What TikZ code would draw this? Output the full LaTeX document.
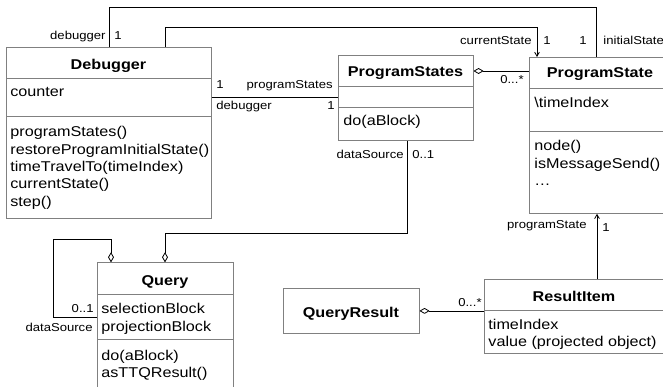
\documentclass[tikz,border=0pt]{standalone}
\usepackage{fontspec}
\setmainfont{Liberation Sans}[FakeStretch=1.14]
\usepackage{tikz}
\usetikzlibrary{arrows}

\newcommand{\bodyfont}{\fontsize{14.2}{17.5}\selectfont}
\newcommand{\labelfont}{\fontsize{11.5}{13}\selectfont}

\begin{document}
\begin{tikzpicture}[x=1pt,y=-1pt,>=angle 60,line width=0.8pt]
  \tikzstyle{cls}=[draw=black!50,anchor=north west,inner sep=0pt]
  \tikzstyle{div}=[draw=black!50]
  \tikzstyle{cname}=[anchor=base,inner sep=0pt,font=\bodyfont\bfseries]
  \tikzstyle{txt}=[anchor=base west,align=left,inner sep=0pt,font=\bodyfont]
  \tikzstyle{lab}=[inner sep=0pt,font=\labelfont]
  \tikzstyle{assoc}=[draw=black]
  \tikzstyle{agg}=[draw=black,open diamond-]
  \tikzstyle{nav}=[draw=black,->]

  \useasboundingbox (0,0) rectangle (663,387);
  \clip (0,0) rectangle (663,387);

  % classes
  \node[cls,minimum width=205pt,minimum height=171pt] (debugger) at (6,47) {};
  \node[cls,minimum width=135pt,minimum height=85pt]  (states)   at (338,55) {};
  \node[cls,minimum width=142pt,minimum height=156pt] (state)    at (529,57) {};
  \node[cls,minimum width=136pt,minimum height=130pt] (query)    at (97,262) {};
  \node[cls,minimum width=136pt,minimum height=45pt]  (result)   at (283,288) {};
  \node[cls,minimum width=180pt,minimum height=74pt]  (item)     at (484,279) {};

  \draw[div] (debugger.west |- 0,78) -- (debugger.east |- 0,78);
  \draw[div] (debugger.west |- 0,116) -- (debugger.east |- 0,116);
  \draw[div] (states.west |- 0,86) -- (states.east |- 0,86);
  \draw[div] (states.west |- 0,107) -- (states.east |- 0,107);
  \draw[div] (state.west |- 0,88) -- (state.east |- 0,88);
  \draw[div] (state.west |- 0,131) -- (state.east |- 0,131);
  \draw[div] (query.west |- 0,294) -- (query.east |- 0,294);
  \draw[div] (query.west |- 0,339) -- (query.east |- 0,339);
  \draw[div] (item.west |- 0,310) -- (item.east |- 0,310);

  % names, attributes, operations (base = last line)
  \node[cname] (debuggerN) at (108.5,69.5) {Debugger};
  \node[txt]   (debuggerA) at (10,97) {counter};
  \node[txt]   (debuggerO) at (10,206.5) {programStates()\\restoreProgramInitialState()\\timeTravelTo(timeIndex)\\currentState()\\step()};

  \node[cname] (statesN) at (405.5,76.5) {ProgramStates};
  \node[txt]   (statesO) at (343,125.5) {do(aBlock)};

  \node[cname] (stateN) at (600,77.5) {ProgramState};
  \node[txt]   (stateA) at (534,108) {\textbackslash timeIndex};
  \node[txt]   (stateO) at (534,186) {node()\\isMessageSend()\\…};

  \node[cname] (queryN) at (165,285) {Query};
  \node[txt]   (queryA) at (101,331) {selectionBlock\\projectionBlock};
  \node[txt]   (queryO) at (101,377.5) {do(aBlock)\\asTTQResult()};

  \node[cname] (resultN) at (351,317) {QueryResult};

  \node[cname] (itemN) at (574,301) {ResultItem};
  \node[txt]   (itemA) at (488,346.5) {timeIndex\\value (projected object)};

  % connectors
  \draw[assoc] (debugger.north -| 109,0) |- (596,7) -- (state.north -| 596,0);
  \draw[nav] (debugger.north -| 165,0) |- (537,27) -- (state.north -| 537,0);
  \draw[assoc] (debugger.east |- 0,97) -- (states.west |- 0,97);
  \draw[agg] (states.east |- 0,71) -- (state.west |- 0,71);
  \draw[agg] (query.north -| 165,0) -- (165,233) -| (states.south -| 407,0);
  \draw[agg] (query.north -| 111,0) |- (53,239) |- (query.west |- 0,317);
  \draw[nav] (item.north -| 597,0) -- (state.south -| 597,0);
  \draw[agg] (result.east) -- (item.west |- result.east);

  % role names and multiplicities
  \node[lab,anchor=base east] (l1)  at (106,40)  {debugger};
  \node[lab,anchor=base west] (l2)  at (114,40)  {1};
  \node[lab,anchor=base east] (l3)  at (532,45)  {currentState};
  \node[lab,anchor=base west] (l4)  at (543,45)  {1};
  \node[lab,anchor=base east] (l5)  at (587,45)  {1};
  \node[lab,anchor=base west] (l6)  at (603,45)  {initialState};
  \node[lab,anchor=base west] (l7)  at (216,89)  {1};
  \node[lab,anchor=base east] (l8)  at (333,89)  {programStates};
  \node[lab,anchor=base west] (l9)  at (216,110) {debugger};
  \node[lab,anchor=base east] (l10) at (335,110) {1};
  \node[lab,anchor=base east] (l11) at (524,84)  {0...*};
  \node[lab,anchor=base east] (l12) at (404,159) {dataSource};
  \node[lab,anchor=base west] (l13) at (412,159) {0..1};
  \node[lab,anchor=base east] (l14) at (94,312)  {0..1};
  \node[lab,anchor=base east] (l15) at (93,331)  {dataSource};
  \node[lab,anchor=base east] (l16) at (587,229) {programState};
  \node[lab,anchor=base west] (l17) at (602,232) {1};
  \node[lab,anchor=base east] (l18) at (482,306) {0...*};

\end{tikzpicture}
\end{document}
